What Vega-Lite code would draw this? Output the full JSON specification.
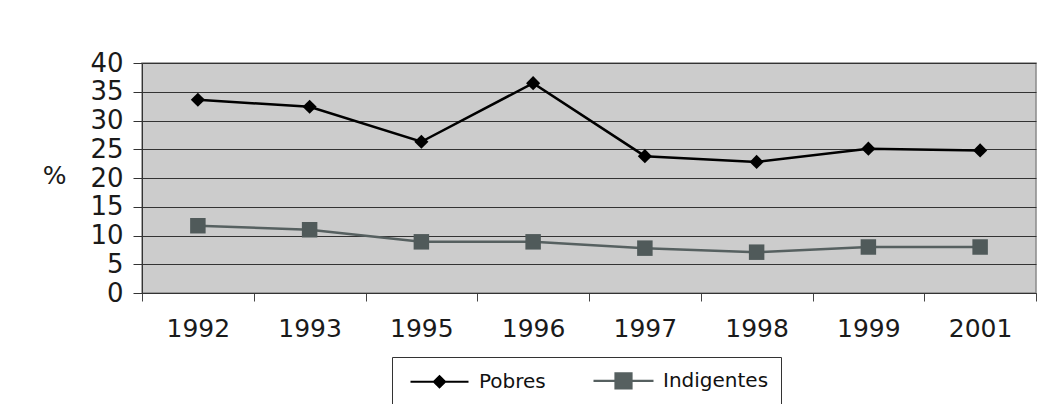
{
  "$schema": "https://vega.github.io/schema/vega-lite/v6.json",
  "width": 894,
  "height": 230,
  "autosize": "none",
  "padding": {"left": 142, "top": 63, "right": 9, "bottom": 111},
  "background": "white",
  "config": {
    "view": {"fill": "#cccccc", "stroke": "#8a8a8a", "strokeWidth": 1.5},
    "font": "DejaVu Sans"
  },
  "data": {
    "values": [
      {"year": "1992", "series": "Pobres", "value": 33.6},
      {"year": "1993", "series": "Pobres", "value": 32.4},
      {"year": "1995", "series": "Pobres", "value": 26.3},
      {"year": "1996", "series": "Pobres", "value": 36.5},
      {"year": "1997", "series": "Pobres", "value": 23.8},
      {"year": "1998", "series": "Pobres", "value": 22.8},
      {"year": "1999", "series": "Pobres", "value": 25.1},
      {"year": "2001", "series": "Pobres", "value": 24.8},
      {"year": "1992", "series": "Indigentes", "value": 11.7},
      {"year": "1993", "series": "Indigentes", "value": 11.0},
      {"year": "1995", "series": "Indigentes", "value": 8.9},
      {"year": "1996", "series": "Indigentes", "value": 8.9},
      {"year": "1997", "series": "Indigentes", "value": 7.8},
      {"year": "1998", "series": "Indigentes", "value": 7.1},
      {"year": "1999", "series": "Indigentes", "value": 8.0},
      {"year": "2001", "series": "Indigentes", "value": 8.0}
    ]
  },
  "encoding": {
    "x": {
      "field": "year",
      "type": "ordinal",
      "scale": {"type": "band", "paddingInner": 0, "paddingOuter": 0},
      "axis": {
        "title": null,
        "labelAngle": 0,
        "labelFontSize": 25,
        "labelColor": "#1a1a1a",
        "labelPadding": 15,
        "tickBand": "extent",
        "tickSize": 8,
        "tickColor": "#444",
        "domainColor": "#333",
        "grid": false
      }
    },
    "y": {
      "field": "value",
      "type": "quantitative",
      "scale": {"domain": [0, 40], "nice": false},
      "axis": {
        "values": [0, 5, 10, 15, 20, 25, 30, 35, 40],
        "title": "%",
        "titleAngle": 0,
        "titleX": -88,
        "titleY": 112,
        "titleAlign": "center",
        "titleBaseline": "middle",
        "titleFontSize": 25,
        "titleFontWeight": "normal",
        "titleColor": "#1a1a1a",
        "labelFontSize": 26,
        "labelColor": "#1a1a1a",
        "labelPadding": 10,
        "tickSize": 9,
        "tickColor": "#333",
        "domainColor": "#333",
        "grid": true,
        "gridColor": "#333333",
        "gridWidth": 1
      }
    },
    "color": {
      "field": "series",
      "type": "nominal",
      "scale": {"domain": ["Pobres", "Indigentes"], "range": ["#000000", "#566060"]},
      "legend": {
        "title": null,
        "orient": "none",
        "legendX": 250,
        "legendY": 294,
        "direction": "horizontal",
        "strokeColor": "#333",
        "fillColor": "white",
        "padding": 12,
        "symbolSize": 400,
        "symbolOffset": 24,
        "labelOffset": 28,
        "columnPadding": 42,
        "labelFontSize": 20,
        "labelColor": "#111",
        "encode": {
          "symbols": {
            "update": {
              "shape": {"signal": "datum.value == 'Pobres' ? 'M-2.9,0H2.9M0,-0.55L0.55,0L0,0.55L-0.55,0Z' : 'M-3,0H3M-0.8,-0.75H0.8V0.75H-0.8Z'"},
              "fill": {"signal": "datum.value == 'Pobres' ? '#000000' : '#505a5a'"},
              "stroke": {"signal": "datum.value == 'Pobres' ? '#000000' : '#6e7878'"},
              "strokeWidth": {"value": 2.2},
              "opacity": {"value": 1}
            }
          }
        }
      }
    }
  },
  "layer": [
    {"mark": {"type": "line", "strokeWidth": 2.5}, "encoding": {}},
    {
      "transform": [{"filter": "datum.series == 'Pobres'"}],
      "mark": {"type": "point", "shape": "diamond", "filled": true, "opacity": 1, "size": 200},
      "encoding": {}
    },
    {
      "transform": [{"filter": "datum.series == 'Indigentes'"}],
      "mark": {"type": "point", "shape": "square", "filled": true, "opacity": 1, "size": 240},
      "encoding": {"color": {"value": "#505a5a"}}
    }
  ]
}
